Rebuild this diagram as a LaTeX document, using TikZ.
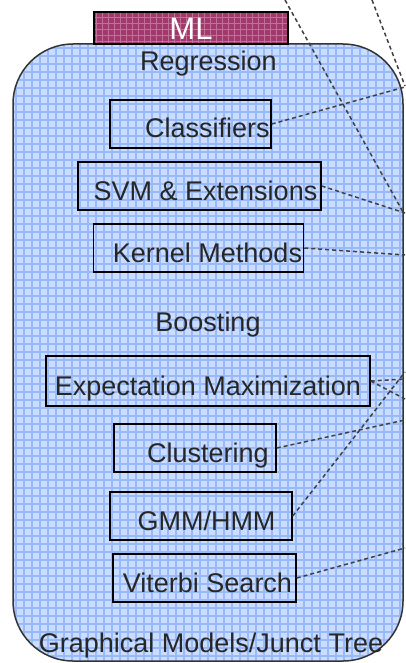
\documentclass[tikz,border=0pt]{standalone}
\usepackage{fontspec}
\setmainfont{Liberation Sans}
\begin{document}
\begin{tikzpicture}[x=1pt,y=-1pt,
  item/.style={draw=black,line width=1.5pt,rectangle,inner sep=0pt,minimum height=48pt},
  txt/.style={inner sep=0pt,anchor=base,font=\fontsize{27}{29}\selectfont,text=black!85},
  link/.style={draw=black!75,line width=1.5pt,dash pattern=on 4pt off 3pt}]
\definecolor{bgblue}{HTML}{CADCFF}
\definecolor{gridblue}{HTML}{98BAF8}
\definecolor{mlred}{HTML}{A03A6C}
\definecolor{mlgrid}{HTML}{C46F98}
\useasboundingbox (0,0) rectangle (405,663);
% main rounded container
\begin{scope}
\clip[rounded corners=60pt] (13,44) rectangle (403,661);
\fill[bgblue] (13,44) rectangle (403,661);
\draw[gridblue,line width=1.2pt,step=8pt] (0,0) grid (405,663);
\end{scope}
\draw[black!80,line width=1.5pt,rounded corners=60pt] (13,44) rectangle (403,661);
% ML tab
\begin{scope}
\clip (94,12) rectangle (288,44);
\fill[mlred] (94,12) rectangle (288,44);
\draw[mlgrid,line width=1pt,step=6pt] (90,10) grid (290,46);
\end{scope}
\draw[black,line width=1.5pt] (94,12) rectangle (288,44);
\node[inner sep=0pt,anchor=base,font=\fontsize{31}{33}\selectfont,text=white] (ml) at (191,40) {ML};
% plain texts
\node[txt] (reg) at (208.5,71) {Regression};
\node[txt] (boost) at (208,331) {Boosting};
\node[txt] (gm) at (211,652) {Graphical Models/Junct Tree};
% boxes
\node[item,minimum width=161pt] (cls) at (190.5,124) {};
\node[item,minimum width=243pt] (svm) at (199.5,186) {};
\node[item,minimum width=210pt] (ker) at (198.5,248) {};
\node[item,minimum width=324pt,minimum height=50pt] (em) at (208,381) {};
\node[item,minimum width=162pt] (clu) at (195,448) {};
\node[item,minimum width=182pt] (gmm) at (201,516) {};
\node[item,minimum width=183pt] (vit) at (204.5,578) {};
% box labels
\node[txt] (clst) at (207.5,138) {Classifiers};
\node[txt] (svmt) at (205.5,200) {SVM \& Extensions};
\node[txt] (kert) at (207.5,262) {Kernel Methods};
\node[txt] (emt) at (208,395) {Expectation Maximization};
\node[txt] (clut) at (208,462) {Clustering};
\node[txt] (gmmt) at (206.5,530) {GMM/HMM};
\node[txt] (vitt) at (207.5,592) {Viterbi Search};
% free ends
\coordinate (t1a) at (285,0);
\coordinate (t1b) at (403,212);
\coordinate (t2a) at (372,0);
\coordinate (t2b) at (405,86);
\coordinate (rc) at (405,87);
\coordinate (rs) at (405,213);
\coordinate (rk) at (405,255);
\coordinate (re1) at (405,379);
\coordinate (re2) at (405,399);
\coordinate (rcl) at (405,420);
\coordinate (rg) at (405,372);
\coordinate (rv) at (405,548);
% connectors
\draw[link] (t1a) -- (t1b);
\draw[link] (t2a) -- (t2b);
\draw[link] (cls.east) -- (rc);
\draw[link] (svm.east) -- (rs);
\draw[link] (ker.east) -- (rk);
\draw[link] (em.east) -- (re1);
\draw[link] (em.east) -- (re2);
\draw[link] (clu.east) -- (rcl);
\draw[link] (gmm.east) -- (rg);
\draw[link] (vit.east) -- (rv);
\end{tikzpicture}
\end{document}
